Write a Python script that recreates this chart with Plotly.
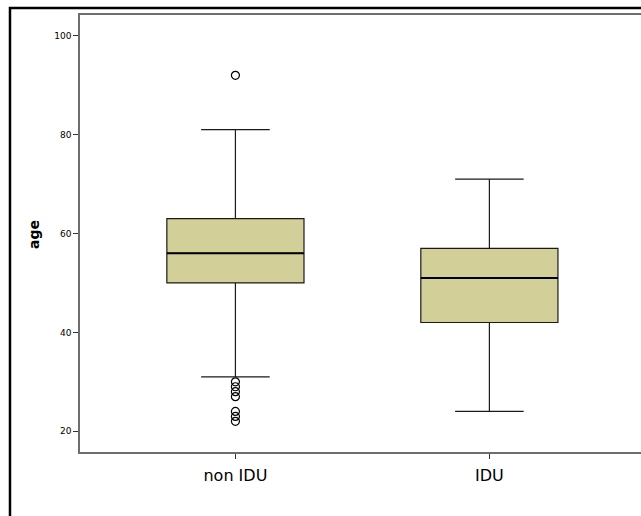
import plotly.graph_objects as go

categories = ["non IDU", "IDU"]
q1 = [50, 42]
median = [56, 51]
q3 = [63, 57]
lower_whisker = [31, 24]
upper_whisker = [81, 71]
outliers = [[92, 30, 29, 28, 27, 24, 23, 22], []]
y_ticks = [20, 40, 60, 80, 100]

box_width = 0.54
positions = list(range(len(categories)))
fill = "#D3CF98"

fig = go.Figure()
fig.add_trace(go.Box(
    x=positions, q1=q1, median=median, q3=q3,
    lowerfence=lower_whisker, upperfence=upper_whisker,
    width=box_width, whiskerwidth=0.5,
    fillcolor=fill, line=dict(color="#1a1a1a", width=1.2),
    boxpoints=False, showlegend=False, hoverinfo="skip",
))

# thicker median lines
mx, my = [], []
for p, m in zip(positions, median):
    mx += [p - box_width / 2, p + box_width / 2, None]
    my += [m, m, None]
fig.add_trace(go.Scatter(x=mx, y=my, mode="lines",
                         line=dict(color="black", width=2.2),
                         showlegend=False, hoverinfo="skip"))

ox, oy = [], []
for p, vals in zip(positions, outliers):
    for v in vals:
        ox.append(p)
        oy.append(v)
fig.add_trace(go.Scatter(x=ox, y=oy, mode="markers",
                         marker=dict(symbol="circle-open", size=8,
                                     color="black", line=dict(width=1.2)),
                         showlegend=False, hoverinfo="skip"))

fig.update_layout(
    width=641, height=516,
    margin=dict(l=80, r=0, t=15, b=64),
    paper_bgcolor="white", plot_bgcolor="white",
    font=dict(family="DejaVu Sans", color="black"),
    xaxis=dict(range=[-0.612, 1.597], tickvals=positions, ticktext=categories,
               showline=True, linecolor="#6e6e6e", linewidth=1.5, mirror=True,
               ticks="outside", ticklen=5, tickcolor="#333333", tickwidth=1,
               ticklabelstandoff=3,
               showgrid=False, zeroline=False,
               tickfont=dict(size=16, family="DejaVu Sans")),
    yaxis=dict(range=[15.8, 104.2], tickvals=y_ticks,
               showline=True, linecolor="#6e6e6e", linewidth=1.5,
               ticks="outside", ticklen=5, tickcolor="#333333", tickwidth=1,
               showgrid=False, zeroline=False,
               tickfont=dict(size=9, family="DejaVu Sans")),
    shapes=[dict(type="rect", xref="paper", yref="paper",
                 x0=-0.1248, x1=1.3, y0=-0.4, y1=1.016,
                 line=dict(color="black", width=2.5), layer="above")],
    annotations=[dict(text="<b>age</b>", xref="paper", yref="paper",
                      x=-0.082, y=0.499, xanchor="center", yanchor="middle",
                      showarrow=False, textangle=-90,
                      font=dict(size=14, family="DejaVu Sans"))],
)

fig.write_html("out.html", config={"displayModeBar": False},
               post_script="document.body.style.margin='0';")
